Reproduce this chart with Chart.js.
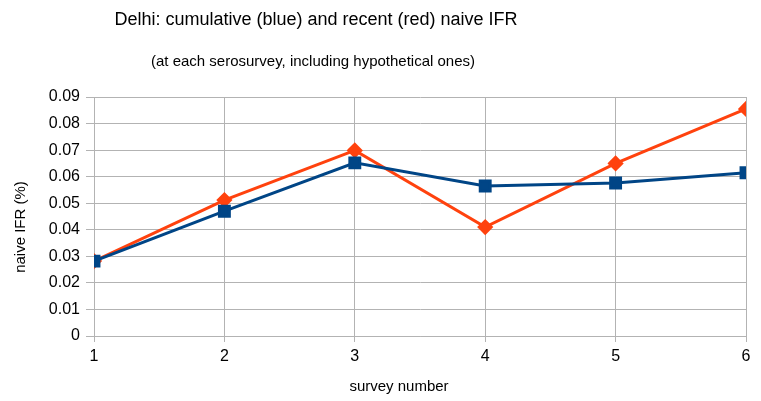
<!DOCTYPE html>
<html>
<head>
<meta charset="utf-8">
<script src="https://cdn.jsdelivr.net/npm/chart.js@4"></script>
<style>
  html, body { margin: 0; padding: 0; background: #fff; }
  #wrap { width: 761px; height: 401px; }
</style>
</head>
<body>
<div id="wrap"><canvas id="c"></canvas></div>
<script>
// survey number on x, naive IFR (%) on y
const surveys = [1, 2, 3, 4, 5, 6];
const cumulative = [0.0282, 0.0470, 0.0652, 0.0565, 0.0576, 0.0615];
const recent = [0.0282, 0.0512, 0.0699, 0.0410, 0.0650, 0.0855];
const yTicks = [0, 0.01, 0.02, 0.03, 0.04, 0.05, 0.06, 0.07, 0.08, 0.09];

const titleText = 'Delhi: cumulative (blue) and recent (red) naive IFR';
const subtitleText = '(at each serosurvey, including hypothetical ones)';
const xTitle = 'survey number';
const yTitle = 'naive IFR (%)';

const FONT = '"Liberation Sans", Arial, sans-serif';
const GRID = '#b3b3b3';

function toPoints(vals) {
    return surveys.map((s, i) => ({ x: s, y: vals[i] }));
}

// titles sit off-centre in the original, so draw them ourselves
const textPlugin = {
    id: 'texts',
    afterDraw(chart) {
        const ctx = chart.ctx;
        ctx.save();
        ctx.fillStyle = '#000';
        ctx.textAlign = 'center';
        ctx.textBaseline = 'middle';
        ctx.font = '18px ' + FONT;
        ctx.fillText(titleText, 316, 20);
        ctx.font = '15px ' + FONT;
        ctx.fillText(subtitleText, 313, 62);
        ctx.font = '15px ' + FONT;
        ctx.fillText(xTitle, 399, 387);
        ctx.translate(21, 227);
        ctx.rotate(-Math.PI / 2);
        ctx.fillText(yTitle, 0, 0);
        ctx.restore();
    }
};

new Chart(document.getElementById('c'), {
    type: 'line',
    data: {
        datasets: [{
            label: 'cumulative',
            data: toPoints(cumulative),
            borderColor: '#004586',
            backgroundColor: '#004586',
            borderWidth: 3,
            pointStyle: 'rect',
            pointRadius: 7,
            pointHoverRadius: 7,
            tension: 0
        }, {
            label: 'recent',
            data: toPoints(recent),
            borderColor: '#ff420e',
            backgroundColor: '#ff420e',
            borderWidth: 3,
            pointStyle: 'rectRot',
            pointRadius: 6,
            pointHoverRadius: 6,
            tension: 0
        }]
    },
    plugins: [textPlugin],
    options: {
        responsive: true,
        maintainAspectRatio: false,
        animation: false,
        layout: { padding: { left: 0, right: 15, top: 97, bottom: 0 } },
        plugins: {
            legend: { display: false },
            tooltip: { enabled: false },
            title: { display: false }
        },
        scales: {
            x: {
                type: 'linear',
                min: 1,
                max: 6,
                afterFit: axis => { axis.height = 65; },
                ticks: {
                    stepSize: 1,
                    color: '#000',
                    font: { family: FONT, size: 16 },
                    padding: 5
                },
                grid: { color: GRID, tickLength: 6 },
                border: { color: GRID }
            },
            y: {
                min: 0,
                max: 0.09,
                afterBuildTicks: axis => { axis.ticks = yTicks.map(v => ({ value: v })); },
                afterFit: axis => { axis.width = 94; },
                ticks: {
                    color: '#000',
                    font: { family: FONT, size: 16 },
                    padding: 6,
                    callback: v => String(+v.toFixed(2))
                },
                grid: { color: GRID, tickLength: 8 },
                border: { color: GRID }
            }
        }
    }
});
</script>
</body>
</html>
